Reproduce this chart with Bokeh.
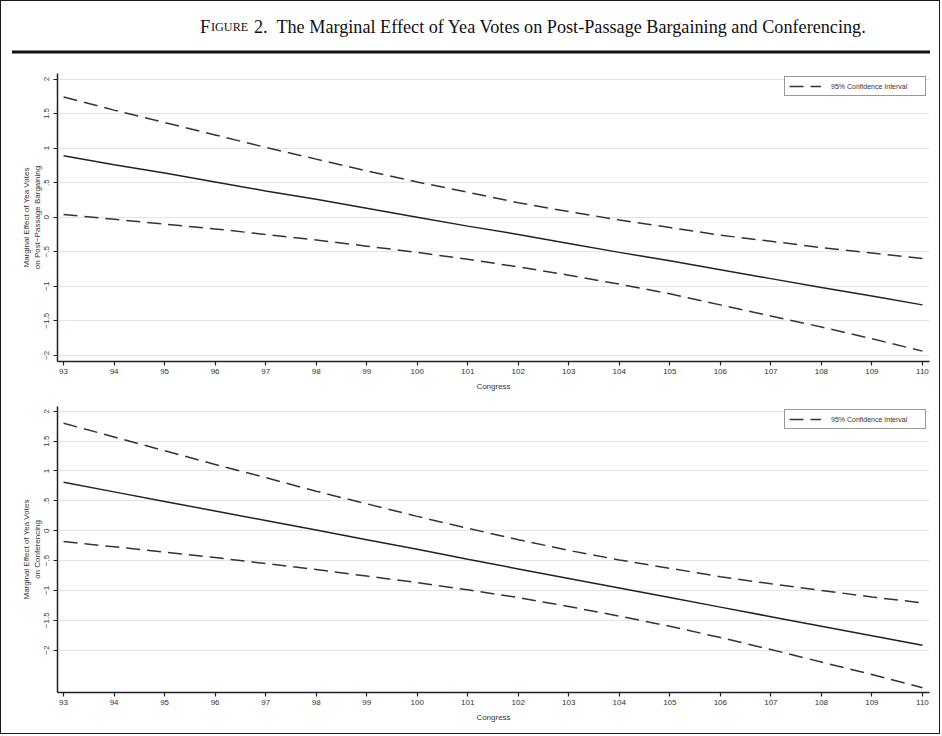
from bokeh.plotting import figure
from bokeh.models import Range1d, FixedTicker, Label, BoxAnnotation, Legend, LegendItem, ColumnDataSource
from bokeh.layouts import column
from bokeh.embed import file_html
from bokeh.resources import INLINE

# ---------------- data ----------------
congress = [93, 94, 95, 96, 97, 98, 99, 100, 101, 102, 103, 104, 105, 106, 107, 108, 109, 110]

bargain_me = [0.89, 0.76, 0.64, 0.51, 0.38, 0.26, 0.13, 0.00, -0.13, -0.25, -0.38, -0.51,
              -0.63, -0.76, -0.89, -1.02, -1.14, -1.27]
bargain_upper = [1.74, 1.55, 1.37, 1.19, 1.01, 0.84, 0.67, 0.51, 0.36, 0.21, 0.08, -0.04,
                 -0.15, -0.26, -0.35, -0.44, -0.52, -0.60]
bargain_lower = [0.04, -0.03, -0.10, -0.17, -0.25, -0.33, -0.42, -0.51, -0.61, -0.72, -0.84, -0.97,
                 -1.11, -1.27, -1.43, -1.59, -1.76, -1.94]

confer_me = [0.81, 0.65, 0.49, 0.33, 0.17, 0.01, -0.15, -0.31, -0.48, -0.64, -0.80, -0.96,
             -1.12, -1.28, -1.44, -1.60, -1.76, -1.92]
confer_upper = [1.80, 1.57, 1.34, 1.11, 0.89, 0.66, 0.45, 0.24, 0.04, -0.15, -0.33, -0.49,
                -0.63, -0.77, -0.89, -1.00, -1.11, -1.21]
confer_lower = [-0.18, -0.27, -0.36, -0.45, -0.55, -0.65, -0.76, -0.87, -0.99, -1.12, -1.27, -1.43,
                -1.60, -1.79, -1.99, -2.20, -2.41, -2.63]

y_ticks = [2, 1.5, 1, 0.5, 0, -0.5, -1, -1.5, -2]
y_tick_labels = ["2", "1.5", "1", ".5", "0", "\u2212.5", "\u22121", "\u22121.5", "\u22122"]

legend_label = "95% Confidence Interval"
x_title = "Congress"
y_title_1 = "Marginal Effect of Yea Votes\non Post\u2212Passage Bargaining"
y_title_2 = "Marginal Effect of Yea Votes\non Conferencing"

W = 938
H_TITLE, H1, H2 = 55, 338, 339
LEFT, RIGHT = 56, 10
SANS = "Liberation Sans"
SERIF = "Liberation Serif"

# ---------------- title block ----------------
t = figure(width=W, height=H_TITLE, x_range=Range1d(0, W), y_range=Range1d(0, H_TITLE),
           x_axis_type=None, y_axis_type=None, toolbar_location=None, output_backend="svg",
           min_border=0)
t.frame_align = False
t.outline_line_color = None
t.grid.visible = False
t.add_layout(Label(x=198.5, y=29.5, text="F", text_font=SERIF, text_font_size="18.3px",
                   text_color="#111111", text_baseline="alphabetic", text_align="left"))
t.add_layout(Label(x=209.5, y=29.5, text="IGURE", text_font=SERIF, text_font_size="12.2px",
                   text_color="#111111", text_baseline="alphabetic", text_align="left"))
t.add_layout(Label(x=252.5, y=29.5,
                   text="2.\u00a0 The Marginal Effect of Yea Votes on Post-Passage Bargaining and Conferencing.",
                   text_font=SERIF, text_font_size="18.2px", text_color="#111111",
                   text_baseline="alphabetic", text_align="left"))
t.add_layout(BoxAnnotation(left=10.5, right=928.5, bottom=3, top=6, fill_color="#111111",
                           fill_alpha=1, line_color=None))


def panel(me, up, lo, ytitle, yrange, height, top, bottom):
    p = figure(width=W, height=height, x_range=Range1d(92.88, 110.14), y_range=Range1d(*yrange),
               toolbar_location=None, output_backend="svg",
               min_border_left=LEFT, min_border_right=RIGHT, min_border_top=top, min_border_bottom=bottom)
    p.outline_line_color = None
    p.background_fill_color = "white"
    p.xgrid.visible = False
    p.ygrid.grid_line_color = "#e4e4e4"
    p.ygrid.grid_line_width = 1

    p.xaxis.ticker = FixedTicker(ticks=congress)
    p.yaxis.ticker = FixedTicker(ticks=y_ticks)
    p.yaxis.major_label_overrides = dict(zip(y_ticks, y_tick_labels))
    p.yaxis.major_label_orientation = "vertical"

    for ax in (p.xaxis[0], p.yaxis[0]):
        ax.axis_line_color = "#222222"
        ax.axis_line_width = 1.5
        ax.major_tick_line_color = "#222222"
        ax.major_tick_line_width = 1.2
        ax.major_tick_out = 4
        ax.major_tick_in = 0
        ax.minor_tick_line_color = None
        ax.major_label_text_font = SANS
        ax.major_label_text_font_size = "8px"
        ax.major_label_text_color = "#333333"
        ax.axis_label_text_font = SANS
        ax.axis_label_text_font_size = "8px"
        ax.axis_label_text_font_style = "normal"
        ax.axis_label_text_color = "#333333"

    p.xaxis.axis_label = x_title
    p.xaxis.major_label_standoff = 3
    p.xaxis.axis_label_standoff = 5
    p.yaxis.axis_label = ytitle
    p.yaxis.major_label_standoff = 4
    p.yaxis.axis_label_standoff = 0

    src = ColumnDataSource(dict(congress=congress, me=me, up=up, lo=lo))
    p.line("congress", "me", source=src, line_color="#222222", line_width=1.5)
    r_up = p.line("congress", "up", source=src, line_color="#333333", line_width=1.5, line_dash="14 7")
    p.line("congress", "lo", source=src, line_color="#333333", line_width=1.5, line_dash="14 7")

    leg = Legend(items=[LegendItem(label=legend_label, renderers=[r_up])], location="top_right")
    leg.margin = 3
    leg.padding = 4
    leg.spacing = 0
    leg.glyph_width = 32
    leg.glyph_height = 10
    leg.label_height = 10
    leg.label_width = 90
    leg.label_standoff = 10
    leg.label_text_font = SANS
    leg.label_text_font_size = "7px"
    leg.label_text_color = "#333333"
    leg.border_line_color = "#333333"
    leg.border_line_width = 1
    leg.background_fill_color = "white"
    leg.background_fill_alpha = 1
    p.add_layout(leg)
    return p


p1 = panel(bargain_me, bargain_upper, bargain_lower, y_title_1, (-2.09, 2.08), H1, 17, 33)
p2 = panel(confer_me, confer_upper, confer_lower, y_title_2, (-2.71, 2.08), H2, 12, 41)

page = column(t, p1, p2, spacing=0,
              styles={"border": "1.5px solid #1a1a1a", "background-color": "white"})

open("out.html", "w").write(file_html(page, INLINE))
